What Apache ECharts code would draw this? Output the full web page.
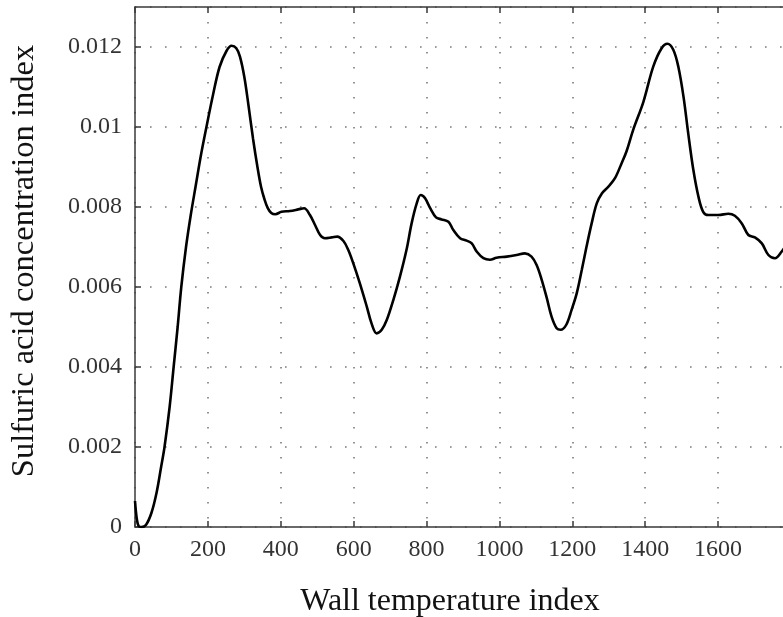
<!DOCTYPE html>
<html>
<head>
<meta charset="utf-8">
<script src="https://cdn.jsdelivr.net/npm/echarts@6/dist/echarts.min.js"></script>
<style>
html,body{margin:0;padding:0;background:#fff;}
#chart{width:783px;height:617px;}
</style>
</head>
<body>
<div id="chart"></div>
<script>
// Wall temperature index (x) and sulfuric acid concentration index (y)
const xValues = [0, 5, 10, 18, 30, 45, 59, 72, 81, 95, 106, 117, 127, 140, 153, 166, 181, 196, 214, 232, 251, 265, 278, 288, 300, 312, 324, 336, 346, 355, 364, 374, 385, 402, 425, 448, 464, 480, 494, 508, 521, 540, 555, 572, 585, 599, 617, 636, 649, 663, 677, 691, 709, 727, 745, 759, 773, 784, 796, 810, 826, 841, 860, 873, 892, 910, 924, 938, 956, 974, 992, 1020, 1047, 1070, 1088, 1102, 1116, 1130, 1143, 1157, 1168, 1183, 1198, 1212, 1226, 1239, 1253, 1267, 1281, 1299, 1317, 1335, 1349, 1367, 1395, 1422, 1445, 1461, 1477, 1491, 1505, 1518, 1532, 1546, 1559, 1573, 1601, 1628, 1646, 1665, 1683, 1701, 1720, 1738, 1756, 1774, 1790];
const yValues = [0.00065, 0.0002, 0.00002, 0, 0.00005, 0.00035, 0.00085, 0.00152, 0.002, 0.003, 0.004, 0.005, 0.006, 0.007, 0.0078, 0.0085, 0.0093, 0.01, 0.0108, 0.0115, 0.0119, 0.01203, 0.01197, 0.01176, 0.01125, 0.0105, 0.0097, 0.009, 0.0085, 0.0082, 0.00798, 0.00785, 0.00782, 0.00788, 0.0079, 0.00794, 0.00797, 0.0078, 0.00755, 0.0073, 0.00722, 0.00724, 0.00726, 0.00715, 0.00693, 0.00659, 0.00609, 0.00551, 0.00509, 0.00484, 0.00493, 0.00518, 0.00568, 0.00626, 0.00693, 0.00759, 0.00809, 0.0083, 0.00822, 0.00797, 0.00774, 0.00769, 0.00763, 0.00743, 0.00722, 0.00716, 0.00709, 0.00688, 0.00672, 0.00668, 0.00673, 0.00676, 0.0068, 0.00684, 0.00676, 0.00655, 0.00618, 0.00572, 0.00526, 0.00497, 0.00493, 0.00505, 0.00543, 0.00584, 0.00643, 0.00701, 0.00759, 0.00809, 0.00834, 0.00851, 0.00872, 0.00909, 0.0094, 0.00993, 0.01063, 0.01151, 0.01197, 0.01208, 0.01193, 0.0115, 0.01076, 0.00984, 0.00893, 0.00826, 0.00788, 0.0078, 0.0078, 0.00783, 0.00778, 0.00759, 0.0073, 0.00724, 0.00709, 0.0068, 0.00672, 0.00688, 0.0071];
const xTitle = 'Wall temperature index';
const yTitle = 'Sulfuric acid concentration index';

const seriesData = xValues.map((x, i) => [x, yValues[i]]);
const FONT = '"Liberation Serif", "DejaVu Serif", serif';
const axisColor = '#3a3a3a';
const gridDots = { color: '#7a7a7a', width: 1.6, type: [1.6, 13.4] };

const chart = echarts.init(document.getElementById('chart'), null, { renderer: 'canvas' });
chart.setOption({
  animation: false,
  backgroundColor: '#ffffff',
  grid: { left: 135, right: -8, top: 7, bottom: 90, containLabel: false, outerBoundsMode: 'none' },
  xAxis: [{
    type: 'value', min: 0, max: 1800, interval: 200, position: 'bottom',
    name: xTitle, nameLocation: 'middle', nameGap: 59,
    nameTextStyle: { fontFamily: FONT, fontSize: 32, color: '#111', padding: [0, 26, 0, 0] },
    axisLine: { show: true, lineStyle: { color: axisColor, width: 1.5 } },
    axisTick: { show: true, inside: true, length: 6, lineStyle: { color: axisColor, width: 1.5 } },
    axisLabel: { fontFamily: FONT, fontSize: 24, color: '#333', margin: 11, showMaxLabel: false,
      formatter: v => String(v) },
    splitLine: { show: true, lineStyle: gridDots }
  }, {
    type: 'value', min: 0, max: 1800, interval: 200, position: 'top',
    axisLine: { show: true, lineStyle: { color: axisColor, width: 1.5 } },
    axisTick: { show: true, inside: true, length: 6, lineStyle: { color: axisColor, width: 1.5 } },
    axisLabel: { show: false },
    splitLine: { show: false }
  }],
  yAxis: [{
    type: 'value', min: 0, max: 0.013, interval: 0.002,
    name: yTitle, nameLocation: 'middle', nameGap: 94, nameRotate: 90,
    nameTextStyle: { fontFamily: FONT, fontSize: 32.5, color: '#111', padding: [0, 0, 0, 12] },
    axisLine: { show: true, lineStyle: { color: axisColor, width: 1.5 } },
    axisTick: { show: true, inside: true, length: 6, lineStyle: { color: axisColor, width: 1.5 } },
    axisLabel: { fontFamily: FONT, fontSize: 24, color: '#333', margin: 13, showMaxLabel: false },
    splitLine: { show: true, lineStyle: gridDots }
  }],
  series: [{
    type: 'line', xAxisIndex: 0, yAxisIndex: 0,
    data: seriesData, smooth: 0.35, showSymbol: false, symbol: 'none',
    lineStyle: { color: '#000', width: 2.6 }
  }]
});
</script>
</body>
</html>
